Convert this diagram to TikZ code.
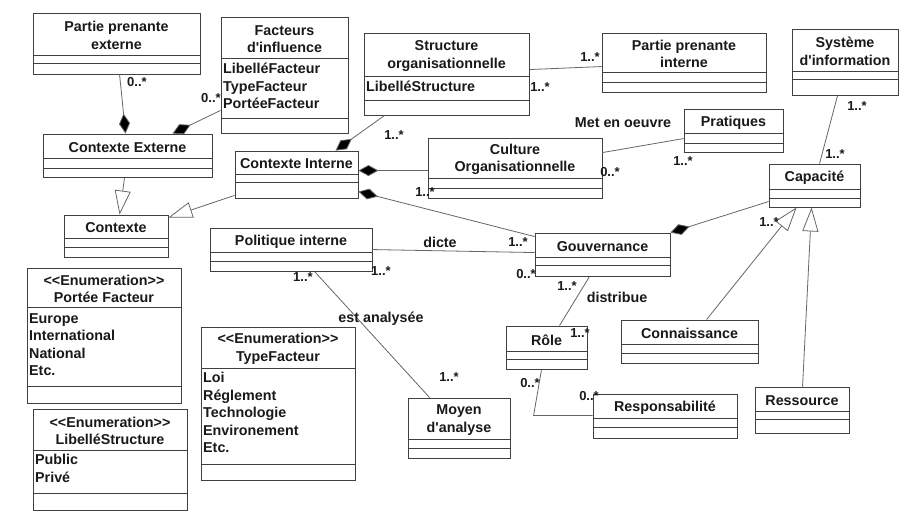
\documentclass[tikz,border=0pt]{standalone}
\usepackage{fontspec}
\newfontfamily\umlfont{Liberation Sans}
\usetikzlibrary{arrows.meta,calc,fit}
\tikzset{
  cls/.style={draw=black!75, line width=0.9pt, inner sep=0pt, fill=white},
  cline/.style={draw=black!75, line width=0.9pt},
  ttl/.style={font=\umlfont\bfseries\fontsize{14.3}{17.5}\selectfont, align=center, inner sep=0pt, text=black!90, yshift=-1.5pt},
  attr/.style={font=\umlfont\bfseries\fontsize{14.3}{17.5}\selectfont, align=left, inner sep=1pt, anchor=north west, text=black!90, yshift=-2pt},
  mult/.style={font=\umlfont\bfseries\fontsize{13}{15}\selectfont, inner sep=0pt, text=black!90},
  lbl/.style={font=\umlfont\bfseries\fontsize{14.3}{17}\selectfont, inner sep=0pt, text=black!90},
  assoc/.style={draw=black!60, line width=0.8pt},
  compo/.style={assoc, -{Diamond[length=20pt,width=11pt,fill=black]}},
  gen/.style={assoc, -{Triangle[length=24pt,width=16pt,fill=white]}},
}
% #1 name, #2 x1, #3 y1, #4 x2, #5 y2, #6 first line, #7 second line, #8 title
\newcommand{\umlclass}[8]{%
  \node[cls, fit={(#2,#3) (#4,#5)}] (#1) {};
  \draw[cline] (#2,#6) -- (#4,#6) (#2,#7) -- (#4,#7);
  \node[ttl] (#1t) at ($(#2,#3)!0.5!(#4,#6)$) {#8};
}
\begin{document}
\begin{tikzpicture}[x=1pt,y=-1pt]
\fill[white] (0,0) rectangle (901,520);
\useasboundingbox (0,0) rectangle (901,520);

% classes
\umlclass{ppe}{33}{13}{200}{74}{55}{63}{Partie prenante\\externe}
\umlclass{fi}{221}{17}{348}{133}{58}{118}{Facteurs\\d'influence}
\node[attr] (fia) at (222,60) {LibelléFacteur\\TypeFacteur\\PortéeFacteur};
\umlclass{so}{364}{33}{529}{115}{76}{100}{Structure\\organisationnelle}
\node[attr] (soa) at (365,78) {LibelléStructure};
\umlclass{ppi}{602}{33}{766}{92}{72}{82}{Partie prenante\\interne}
\umlclass{si}{792}{29}{898}{95}{71}{79}{Système\\d'information}
\umlclass{ce}{43}{134}{212}{177}{158}{168}{Contexte Externe}
\umlclass{ci}{235}{151}{358}{198}{174}{182}{Contexte Interne}
\umlclass{co}{428}{138}{602}{198}{178}{188}{Culture\\Organisationnelle}
\umlclass{pr}{684}{109}{783}{152}{133}{143}{Pratiques}
\umlclass{cap}{769}{164}{860}{207}{189}{198}{Capacité}
\umlclass{ctx}{64}{215}{168}{257}{238}{247}{Contexte}
\umlclass{pi}{210}{228}{372}{271}{252}{261}{Politique interne}
\umlclass{gov}{535}{233}{670}{276}{257}{265}{Gouvernance}
\umlclass{pf}{27}{268}{181}{403}{307}{386}{<\kern0pt<Enumeration>\kern0pt>\\Portée Facteur}
\node[attr] (pfa) at (28,310) {Europe\\International\\National\\Etc.};
\umlclass{tf}{201}{327}{355}{480}{368}{464}{<\kern0pt<Enumeration>\kern0pt>\\TypeFacteur}
\node[attr] (tfa) at (202,369) {Loi\\Réglement\\Technologie\\Environement\\Etc.};
\umlclass{ls}{33}{409}{187}{510}{450}{493}{<\kern0pt<Enumeration>\kern0pt>\\LibelléStructure}
\node[attr] (lsa) at (34,451) {Public\\Privé};
\umlclass{role}{506}{326}{587}{369}{351}{359}{Rôle}
\umlclass{conn}{621}{320}{758}{363}{344}{353}{Connaissance}
\umlclass{moy}{408}{398}{510}{458}{439}{448}{Moyen\\d'analyse}
\umlclass{resp}{593}{394}{737}{438}{418}{427}{Responsabilité}
\umlclass{res}{755}{387}{849}{433}{411}{419}{Ressource}

% connectors
\draw[compo] ($(ppe.south west)+(87,0)$) -- ($(ce.north west)+(83,0)$);
\draw[compo] ($(fi.south west)+(0,-23)$) -- ($(ce.north west)+(130,0)$);
\draw[compo] ($(so.south west)+(21,0)$) -- ($(ci.north west)+(101,0)$);
\draw[compo] ($(co.north west)+(0,33)$) -- ($(ci.north east)+(0,20)$);
\draw[compo] ($(gov.north west)+(0,4)$) -- ($(ci.north east)+(0,41)$);
\draw[gen] ($(ce.south west)+(82,0)$) -- ($(ctx.north west)+(56,0)$);
\draw[gen] ($(ci.south west)+(0,-3)$) -- ($(ctx.north east)+(0,3)$);
\draw[assoc] ($(so.north east)+(0,37)$) -- ($(ppi.north west)+(0,34)$);
\draw[assoc] ($(co.north east)+(0,15)$) -- ($(pr.north west)+(0,30)$);
\draw[assoc] ($(si.south west)+(46,0)$) -- ($(cap.north west)+(51,0)$);
\draw[compo] ($(cap.north west)+(0,38)$) -- (gov.north east);
\draw[gen] ($(conn.north west)+(86,0)$) -- ($(cap.south west)+(28,0)$);
\draw[gen] ($(res.north west)+(48,0)$) -- ($(cap.south west)+(43,0)$);
\draw[assoc] ($(pi.north east)+(0,22)$) -- ($(gov.north west)+(0,20)$);
\draw[assoc] ($(pi.south west)+(105,0)$) -- ($(moy.north west)+(22,0)$);
\draw[assoc] ($(gov.south west)+(55,0)$) -- ($(role.north west)+(54,0)$);
\coordinate (rc) at ($(resp.north west)+(-59,22)$);
\draw[assoc] ($(role.south west)+(36,0)$) -- (rc) -- ($(resp.north west)+(0,22)$);

% labels
\node[mult] (m1) at (137,82) {0..*};
\node[mult] (m2) at (211,98) {0..*};
\node[mult] (m3) at (394,135) {1..*};
\node[mult] (m4) at (425,192) {1..*};
\node[mult] (m5) at (518,242) {1..*};
\node[mult] (m6) at (590,57) {1..*};
\node[mult] (m7) at (540,87) {1..*};
\node[lbl] (l1) at (623,123) {Met en oeuvre};
\node[mult] (m8) at (610,172) {0..*};
\node[mult] (m9) at (683,161) {1..*};
\node[mult] (m10) at (857,106) {1..*};
\node[mult] (m11) at (835,154) {1..*};
\node[mult] (m12) at (769,222) {1..*};
\node[lbl] (l2) at (440,242) {dicte};
\node[mult] (m13) at (381,271) {1..*};
\node[mult] (m14) at (526,274) {0..*};
\node[mult] (m15) at (303,277) {1..*};
\node[lbl] (l3) at (381,319) {est analysée};
\node[mult] (m16) at (449,377) {1..*};
\node[mult] (m17) at (567,286) {1..*};
\node[lbl] (l4) at (617,297) {distribue};
\node[mult] (m18) at (580,333) {1..*};
\node[mult] (m19) at (530,383) {0..*};
\node[mult] (m20) at (589,396) {0..*};
\end{tikzpicture}
\end{document}
